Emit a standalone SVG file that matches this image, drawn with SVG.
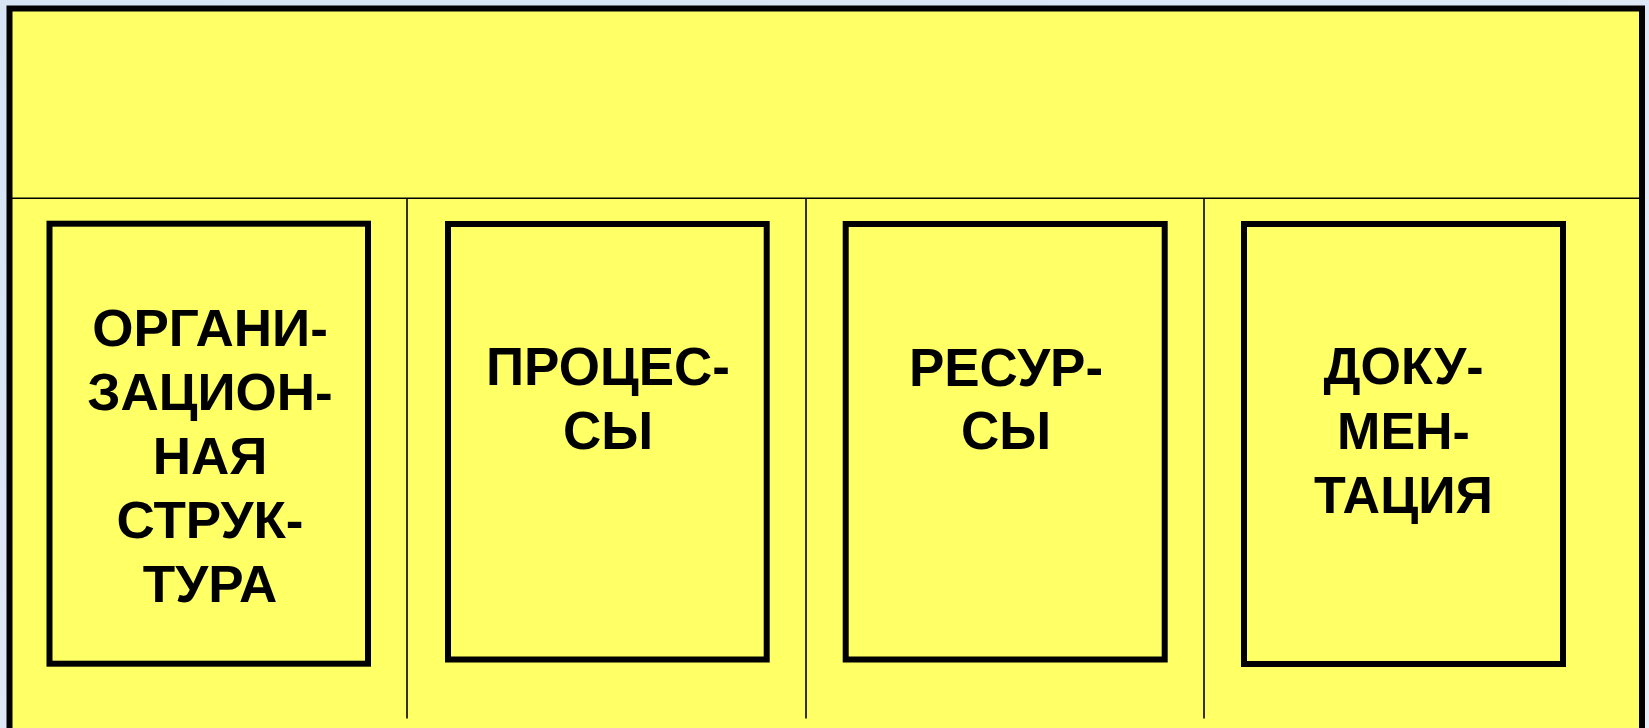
<svg xmlns="http://www.w3.org/2000/svg" width="1649" height="728" viewBox="0 0 1649 728">
  <defs>
    <linearGradient id="bg" x1="0" y1="0" x2="1" y2="1">
      <stop offset="0" stop-color="#d5e3f4"/>
      <stop offset="1" stop-color="#e6eefa"/>
    </linearGradient>
  </defs>
  <style>
    .box { fill: #ffff66; stroke: #000; stroke-width: 6; }
    .div { stroke: #000; stroke-width: 1.6; fill: none; }
    .lbl { font-family: "Liberation Sans", Arial, sans-serif; font-weight: bold; fill: #000; text-anchor: middle; }
    .sm { font-size: 51px; }
    .lg { font-size: 53px; }
  </style>
  <rect x="0" y="0" width="1649" height="728" fill="url(#bg)"/>
  <g id="frame">
    <rect x="9.5" y="8.5" width="1632.5" height="740" class="box"/>
  </g>
  <g id="dividers">
    <line x1="12" y1="198.3" x2="1639" y2="198.3" class="div"/>
    <line x1="407" y1="198.3" x2="407" y2="718.5" class="div"/>
    <line x1="806" y1="198.3" x2="806" y2="718.5" class="div"/>
    <line x1="1204" y1="198.3" x2="1204" y2="718.5" class="div"/>
  </g>
  <g id="node-org">
    <rect x="49.5" y="223.7" width="318.5" height="440" class="box"/>
    <g transform="translate(210 0) scale(1.04 1)">
      <text class="lbl sm" x="0" y="346.5">ОРГАНИ-</text>
      <text class="lbl sm" x="0" y="410.5">ЗАЦИОН-</text>
      <text class="lbl sm" x="0" y="474.5">НАЯ</text>
      <text class="lbl sm" x="0" y="538">СТРУК-</text>
      <text class="lbl sm" x="0" y="602">ТУРА</text>
    </g>
  </g>
  <g id="node-proc">
    <rect x="448" y="224" width="318.7" height="435.5" class="box"/>
    <text class="lbl lg" x="608" y="385">ПРОЦЕС-</text>
    <text class="lbl lg" x="608" y="449.3">СЫ</text>
  </g>
  <g id="node-res">
    <rect x="845.7" y="224" width="319" height="435.5" class="box"/>
    <text class="lbl lg" x="1006" y="385.7">РЕСУР-</text>
    <text class="lbl lg" x="1006" y="449.3">СЫ</text>
  </g>
  <g id="node-doc">
    <rect x="1244" y="224" width="319" height="440" class="box"/>
    <g transform="translate(1403.5 0) scale(1.02 1)">
      <text class="lbl sm" x="0" y="384">ДОКУ-</text>
      <text class="lbl sm" x="0" y="449">МЕН-</text>
      <text class="lbl sm" x="0" y="513.5">ТАЦИЯ</text>
    </g>
  </g>
</svg>
